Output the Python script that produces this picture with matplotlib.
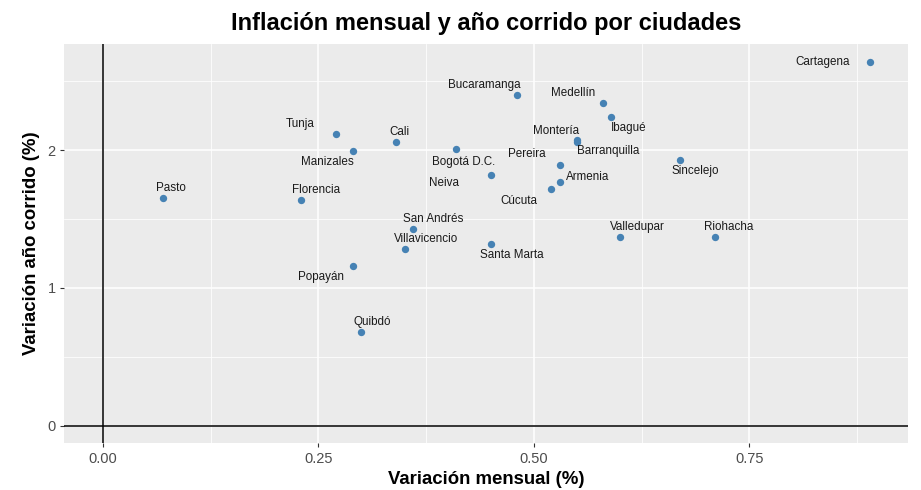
import matplotlib
matplotlib.use("Agg")
import matplotlib.pyplot as plt
from matplotlib.ticker import MultipleLocator

plt.rcParams['font.family'] = ['Liberation Sans', 'DejaVu Sans']

ciudades = ['Pasto', 'Florencia', 'Tunja', 'Manizales', 'Cali', 'Bogotá D.C.',
            'Neiva', 'San Andrés', 'Villavicencio', 'Popayán', 'Quibdó',
            'Bucaramanga', 'Medellín', 'Ibagué', 'Montería', 'Barranquilla',
            'Pereira', 'Armenia', 'Cúcuta', 'Santa Marta', 'Sincelejo',
            'Valledupar', 'Riohacha', 'Cartagena']
mensual = [0.07, 0.23, 0.27, 0.29, 0.34, 0.41,
           0.45, 0.36, 0.35, 0.29, 0.30,
           0.48, 0.58, 0.59, 0.55, 0.55,
           0.53, 0.53, 0.52, 0.45, 0.67,
           0.60, 0.71, 0.89]
corrido = [1.65, 1.64, 2.12, 1.99, 2.06, 2.01,
           1.82, 1.43, 1.28, 1.16, 0.68,
           2.40, 2.34, 2.24, 2.06, 2.07,
           1.89, 1.77, 1.72, 1.32, 1.93,
           1.37, 1.37, 2.64]

# label offsets in pixels (dx, dy; positive dy = up), repel-like placement
offsets = {
    'Pasto': (8, 10), 'Florencia': (15, 10), 'Tunja': (-35, 10),
    'Manizales': (-25, -11), 'Cali': (4, 10), 'Bogotá D.C.': (7, -13),
    'Neiva': (-47, -8), 'San Andrés': (20, 10), 'Villavicencio': (22, 10),
    'Popayán': (-32, -11), 'Quibdó': (11, 10), 'Bucaramanga': (-32, 10),
    'Medellín': (-30, 10), 'Ibagué': (17, -11), 'Montería': (-21, 11),
    'Barranquilla': (31, -11), 'Pereira': (-33, 11), 'Armenia': (28, 5),
    'Cúcuta': (-32, -12), 'Santa Marta': (21, -11), 'Sincelejo': (15, -11),
    'Valledupar': (17, 10), 'Riohacha': (14, 10), 'Cartagena': (-47, 0),
}

fig = plt.figure(figsize=(9.21, 4.90), dpi=100)
ax = fig.add_axes([64 / 921, 1 - 443.3 / 490, (908 - 64) / 921, (443.3 - 44) / 490])
ax.set_facecolor('#EBEBEB')
for s in ax.spines.values():
    s.set_visible(False)

ax.set_xlim(-0.045, 0.934)
ax.set_ylim(-0.128, 2.77)
ax.xaxis.set_major_locator(MultipleLocator(0.25))
ax.xaxis.set_minor_locator(MultipleLocator(0.125))
ax.yaxis.set_major_locator(MultipleLocator(1))
ax.yaxis.set_minor_locator(MultipleLocator(0.5))
ax.xaxis.set_major_formatter(lambda v, p: f'{v:.2f}')
ax.yaxis.set_major_formatter(lambda v, p: f'{v:.0f}')
ax.grid(which='major', color='white', linewidth=1.1)
ax.grid(which='minor', color='white', linewidth=0.55)
ax.set_axisbelow(True)
ax.tick_params(which='major', length=3, width=0.8, color='#333333',
               labelcolor='#4D4D4D', labelsize=10.5, pad=3)
ax.tick_params(which='minor', length=0)

ax.axvline(0, color='black', linewidth=1.1, zorder=1.5)
ax.axhline(0, color='black', linewidth=1.1, zorder=1.5)

ax.scatter(mensual, corrido, s=28, color='#4682B4', zorder=3, linewidths=0)

for c, x, y in zip(ciudades, mensual, corrido):
    dx, dy = offsets[c]
    ax.annotate(c, (x, y), xytext=(dx, dy), textcoords='offset pixels',
                ha='center', va='center', fontsize=8.4, color='#1A1A1A', zorder=4)

ax.set_title('Inflación mensual y año corrido por ciudades', fontsize=17,
             fontweight='bold', pad=10)
ax.set_xlabel('Variación mensual (%)', fontsize=13.4, fontweight='bold', labelpad=4)
ax.set_ylabel('Variación año corrido (%)', fontsize=13.4, fontweight='bold', labelpad=5)

fig.savefig('out.png', dpi=100)
